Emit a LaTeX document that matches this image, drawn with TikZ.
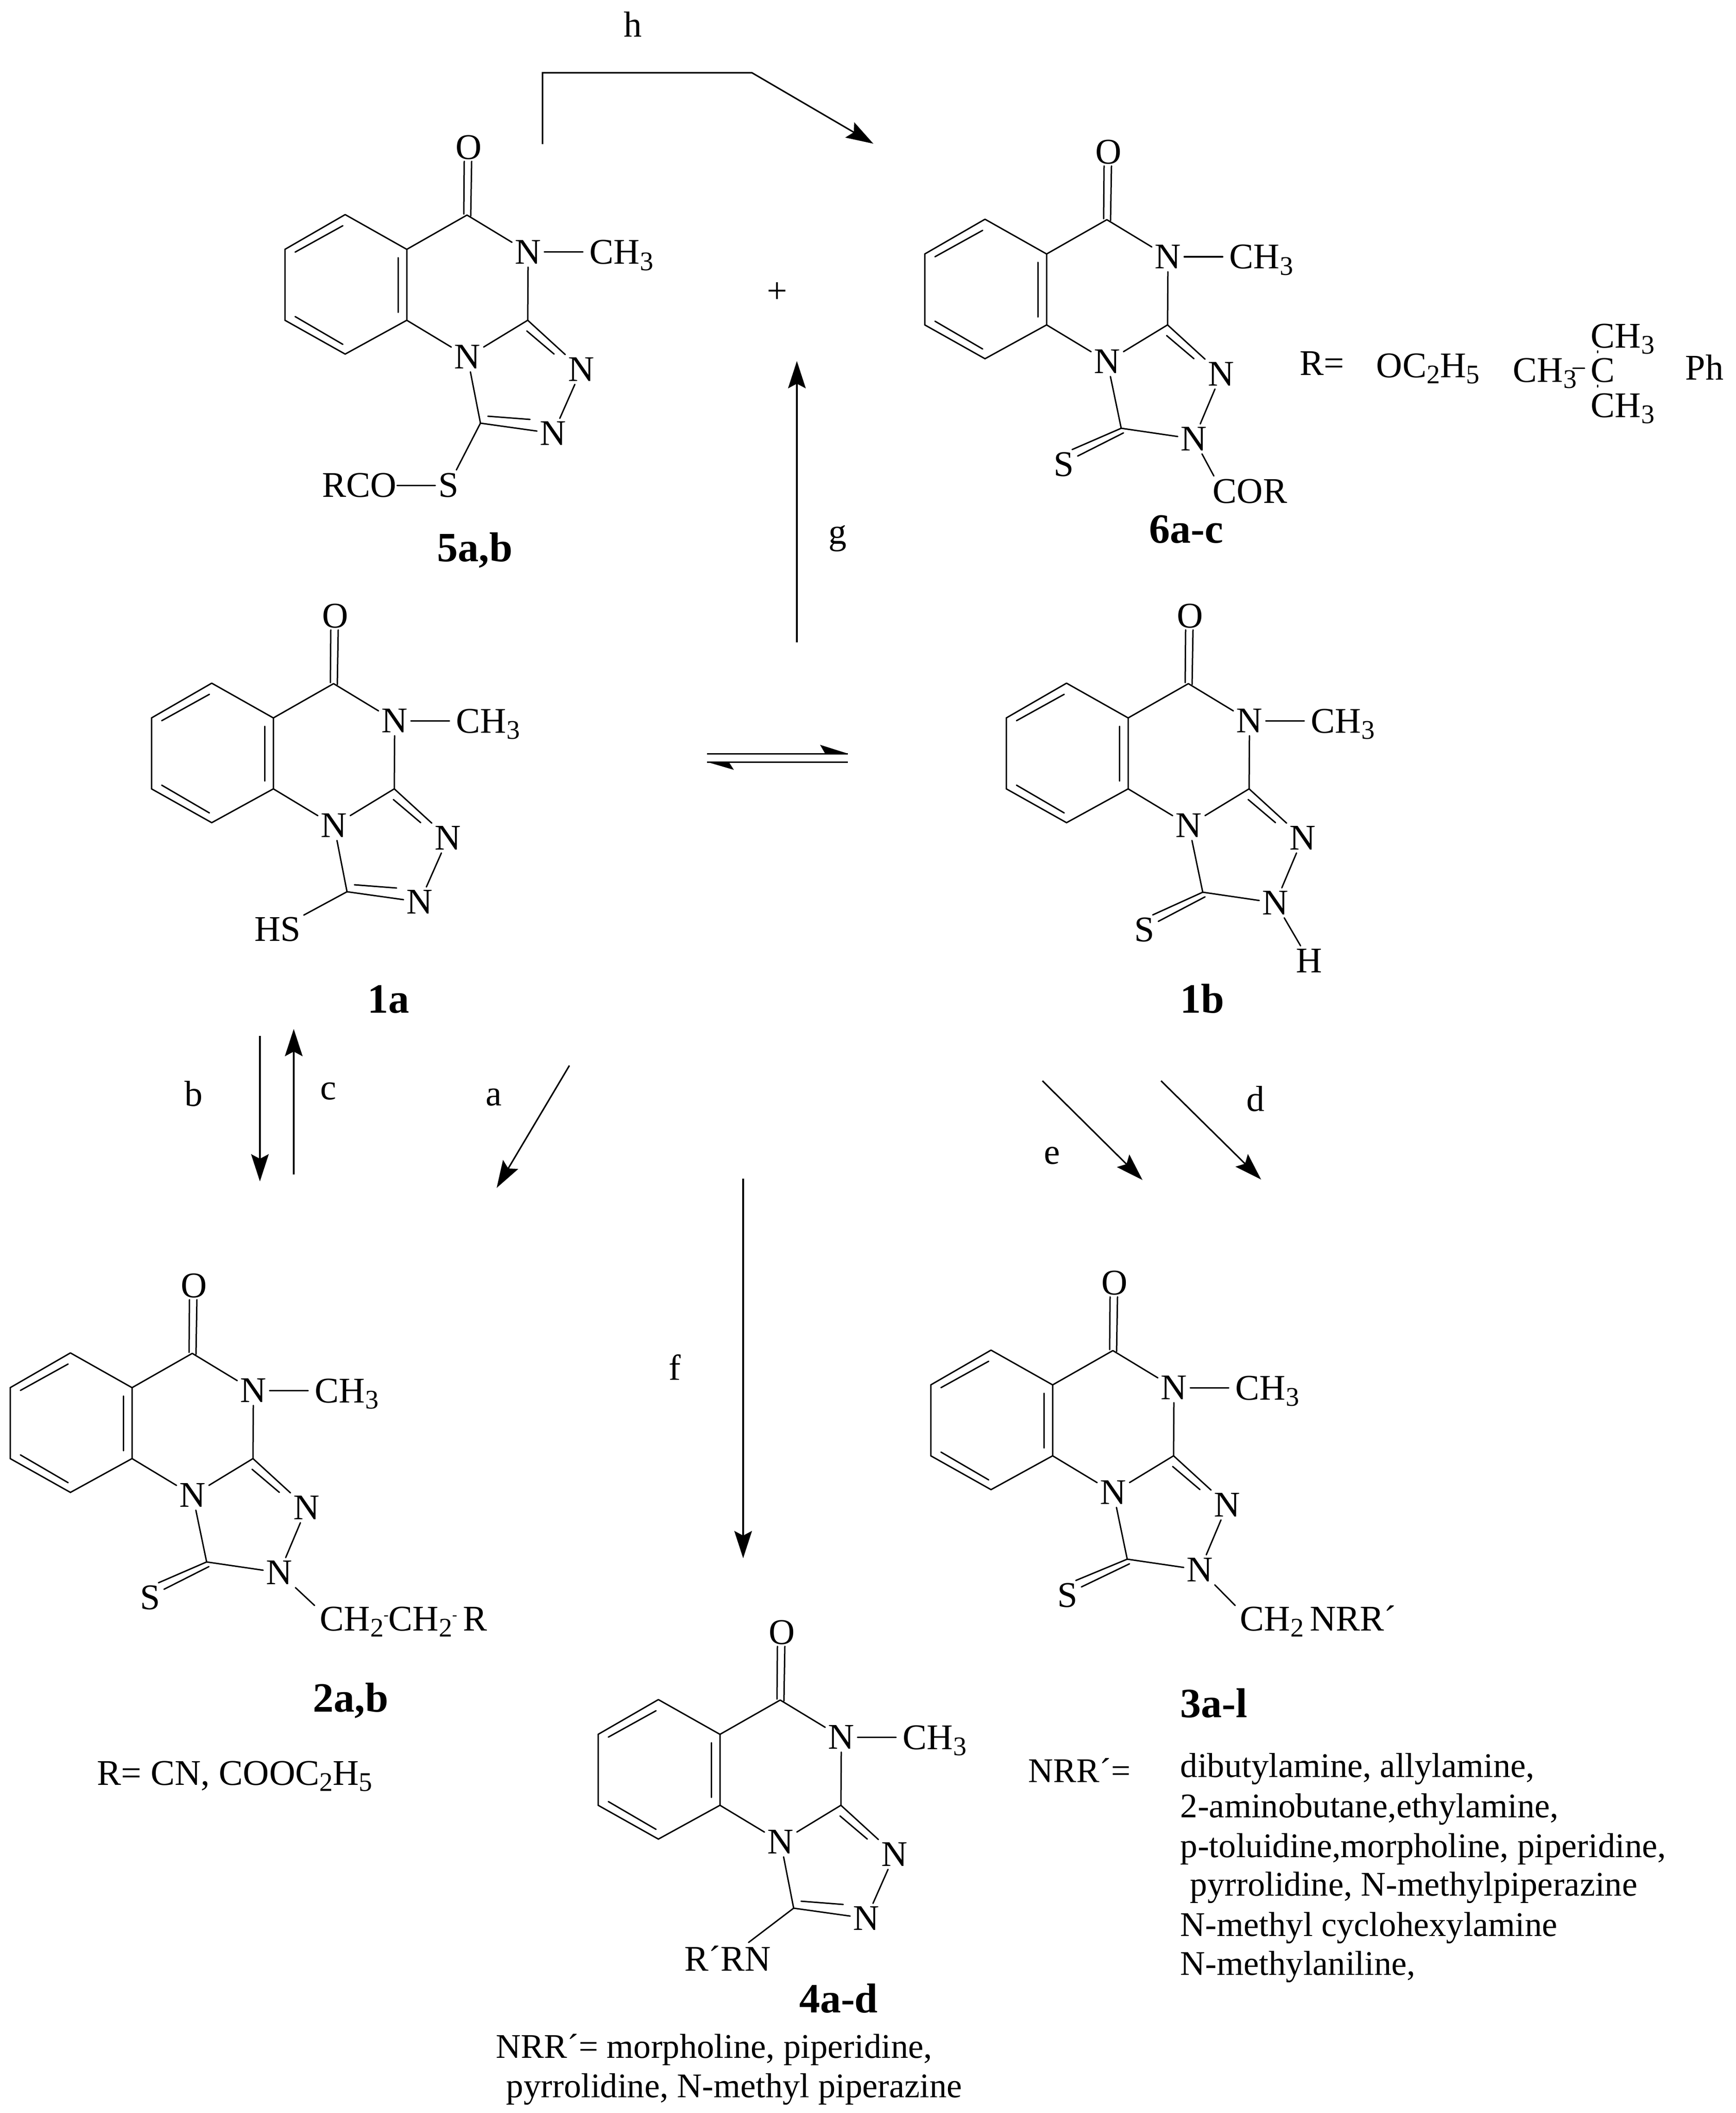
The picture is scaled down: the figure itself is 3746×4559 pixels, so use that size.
\documentclass[tikz,border=0pt]{standalone}
\usepackage{fontspec}
\setmainfont{Liberation Serif}
\usetikzlibrary{arrows.meta,calc}
\newcommand{\dn}[1]{\raisebox{-.17em}{\fontsize{14.5}{14.5}\selectfont #1}}
\newcommand{\smh}{\raisebox{.3em}{\fontsize{8}{8}\selectfont -}}
\tikzset{
  bond/.style={line width=.75pt,line cap=round},
  flowtip/.style={-{Stealth[length=14.7pt,width=9.5pt,inset=2.5pt]}},
  arrowline/.style={line width=.8pt,flowtip},
  atom/.style={inner sep=1.5pt,font=\fontsize{19.5}{23}\selectfont},
  txt/.style={inner sep=0pt,anchor=base west,font=\fontsize{19.5}{23}\selectfont},
  ltxt/.style={inner sep=0pt,anchor=base west,font=\fontsize{18.65}{23}\selectfont},
  ctxt/.style={inner sep=0pt,anchor=base,font=\fontsize{19.5}{23}\selectfont},
  lab/.style={inner sep=0pt,anchor=base,font=\fontsize{22.5}{26}\selectfont\bfseries},
}
% common fused skeleton; #1 prefix, #2,#3 position of the fusion atom, #4 ring-specific code
\newcommand{\corering}[4]{%
\begin{scope}[shift={(#2,#3)}]
 \coordinate (#1A) at (-133,-75); \coordinate (#1B) at (-263,0);
 \coordinate (#1C) at (-263,153); \coordinate (#1D) at (-133,226);
 \coordinate (#1E) at (0,153);    \coordinate (#1F) at (0,0);
 \coordinate (#1G) at (130,-74);  \coordinate (#1H) at (261,153);
 \coordinate (#1ab1) at (-138,-51); \coordinate (#1ab2) at (-241,6);
 \coordinate (#1cd1) at (-241,145); \coordinate (#1cd2) at (-138,205);
 \coordinate (#1ef1) at (-19,18);   \coordinate (#1ef2) at (-19,136);
 \coordinate (#1co1) at (123,-76);  \coordinate (#1co2) at (124,-190);
 \coordinate (#1co3) at (138,-72);  \coordinate (#1co4) at (140,-190);
 \coordinate (#1hn1) at (259,176);  \coordinate (#1hn2) at (318,226);
 \coordinate (#1me) at (380,6);
 \node[atom] (#1O) at (134,-220) {O};
 \node[atom] (#1Na) at (262,6) {N};
 \node[atom] (#1Nb) at (131,232) {N};
 \node[atom] (#1Nc) at (377,259) {N};
 \node[txt] (#1ch) at (394,32) {CH\dn{3}};
 \draw[bond] (#1A) -- (#1B) -- (#1C) -- (#1D) -- (#1E) -- (#1F) -- (#1A);
 \draw[bond] (#1ab1) -- (#1ab2);
 \draw[bond] (#1cd1) -- (#1cd2);
 \draw[bond] (#1ef1) -- (#1ef2);
 \draw[bond] (#1F) -- (#1G);
 \draw[bond] (#1G) -- (#1Na);
 \draw[bond] (#1Na) -- (#1H);
 \draw[bond] (#1H) -- (#1Nb);
 \draw[bond] (#1E) -- (#1Nb);
 \draw[bond] (#1H) -- (#1Nc);
 \draw[bond] (#1hn1) -- (#1hn2);
 \draw[bond] (#1co1) -- (#1co2);
 \draw[bond] (#1co3) -- (#1co4);
 \draw[bond] (#1Na) -- (#1me);
 #4
\end{scope}}
% aromatic triazole ring
\newcommand{\aromtri}[1]{%
 \coordinate (#1T) at (159,375);
 \coordinate (#1tn1) at (175,360); \coordinate (#1tn2) at (266,367);
 \node[atom] (#1Nd) at (316,397) {N};
 \draw[bond] (#1Nb) -- (#1T);
 \draw[bond] (#1T) -- (#1Nd);
 \draw[bond] (#1tn1) -- (#1tn2);
 \draw[bond] (#1Nc) -- (#1Nd);}
% thione triazole ring; #2,#3 position of S
\newcommand{\thiotri}[3]{%
 \coordinate (#1T) at (161,376);
 \coordinate (#1ts1) at (166,386);
 \coordinate (#1ts2) at (#2+30,#3-18);
 \coordinate (#1ts3) at (#2+18,#3-32);
 \node[atom] (#1Nd) at (318,399) {N};
 \draw[bond] (#1Nb) -- (#1T);
 \draw[bond] (#1T) -- (#1Nd);
 \draw[bond] (#1Nc) -- (#1Nd);
 \draw[bond] (#1T) -- (#1ts3);
 \draw[bond] (#1ts1) -- (#1ts2);
 \node[atom] (#1S) at (#2,#3) {S};}
\begin{document}
\begin{tikzpicture}[x=.25pt,y=-.25pt]
\useasboundingbox (0,0) rectangle (3746,4559);

% 5a,b
\corering{e}{878}{538}{%
 \aromtri{e}
 \node[atom] (eS) at (90,509) {S};
 \node[atom,inner sep=0pt] (eR) at (-102,509) {RCO};
 \draw[bond] (eT) -- (eS);
 \draw[bond] (eR) -- (eS);
}
\node[lab] (l5) at (1025,1211) {5a,b};

% 6a-c
\corering{f}{2259}{548}{%
 \thiotri{f}{37}{454}
 \coordinate (fsub) at (361,479);
 \draw[bond] (fNd) -- (fsub);
 \node[txt] (fcor) at (358,537) {COR};
}
\node[lab] (l6) at (2560,1171) {6a-c};
\node[txt] (rdef) at (2805,809) {R=};
\node[txt] (oet) at (2970,814) {OC\dn{2}H\dn{5}};
\node[txt] (meL) at (3265,824) {CH\dn{3}};
\node[txt] (cq) at (3433,824) {C};
\node[txt] (meT) at (3433,750) {CH\dn{3}};
\node[txt] (meB) at (3433,900) {CH\dn{3}};
\node[txt] (ph) at (3637,819) {Ph};
\coordinate (hy1) at (3395,794); \coordinate (hy2) at (3420,794);
\coordinate (dt1) at (3448,757); \coordinate (dt2) at (3448,761);
\coordinate (db1) at (3448,831); \coordinate (db2) at (3448,835);
\draw[bond] (hy1) -- (hy2);
\draw[bond] (dt1) -- (dt2);
\draw[bond] (db1) -- (db2);

% 1a
\corering{a}{590}{1549}{%
 \aromtri{a}
 \node[atom] (aHS) at (9,456) {HS};
 \draw[bond] (aT) -- (aHS);
}
\node[lab] (l1a) at (838,2185) {1a};

% 1b
\corering{b}{2435}{1549}{%
 \thiotri{b}{35}{457}
 \node[atom] (bH) at (391,524) {H};
 \draw[bond] (bNd) -- (bH);
}
\node[lab] (l1b) at (2595,2185) {1b};

% 2a,b
\corering{c}{285}{2994}{%
 \thiotri{c}{39}{453}
 \coordinate (csub) at (394,470);
 \draw[bond] (cNd) -- (csub);
 \node[txt] (ctail) at (405,524) {CH\dn{2}\smh CH\dn{2}\smh\,R};
}
\node[lab] (l2) at (757,3693) {2a,b};
\node[txt] (rcn) at (209,3851) {R= CN, COOC\dn{2}H\dn{5}};

% 3a-l
\corering{d}{2272}{2988}{%
 \thiotri{d}{32}{454}
 \coordinate (dsub) at (394,476);
 \draw[bond] (dNd) -- (dsub);
 \node[txt] (dtail) at (404,530) {CH\dn{2}\,NRR´};
}
\node[lab] (l3) at (2620,3705) {3a-l};
\node[ltxt] (nrrA) at (2219,3845) {NRR´=};
\node[ltxt] (lst1) at (2547,3834) {dibutylamine, allylamine,};
\node[ltxt] (lst2) at (2547,3921) {2-aminobutane,ethylamine,};
\node[ltxt] (lst3) at (2547,4007) {p-toluidine,morpholine, piperidine,};
\node[ltxt] (lst4) at (2568,4090) {pyrrolidine, N-methylpiperazine};
\node[ltxt] (lst5) at (2547,4177) {N-methyl cyclohexylamine};
\node[ltxt] (lst6) at (2547,4261) {N-methylaniline,};

% 4a-d
\corering{g}{1554}{3742}{%
 \aromtri{g}
 \node[atom] (gR) at (17,483) {R´RN};
 \draw[bond] (gT) -- (gR);
}
\node[lab] (l4) at (1810,4342) {4a-d};
\node[ltxt] (nrrB1) at (1070,4440) {NRR´= morpholine, piperidine,};
\node[ltxt] (nrrB2) at (1092,4525) {pyrrolidine, N-methyl piperazine};

% reaction arrows
\coordinate (h0) at (1171,311); \coordinate (h1) at (1171,157);
\coordinate (h2) at (1623,157); \coordinate (h3) at (1885,310);
\draw[line width=.8pt,flowtip] (h0) -- (h1) -- (h2) -- (h3);
\coordinate (g0) at (1720,1386); \coordinate (g1) at (1720,779);
\draw[arrowline] (g0) -- (g1);
\coordinate (b0) at (561,2235); \coordinate (b1) at (561,2549);
\draw[arrowline] (b0) -- (b1);
\coordinate (c0) at (634,2534); \coordinate (c1) at (634,2220);
\draw[arrowline] (c0) -- (c1);
\coordinate (a0) at (1229,2299); \coordinate (a1) at (1072,2563);
\draw[arrowline] (a0) -- (a1);
\coordinate (e0) at (2250,2332); \coordinate (e1) at (2466,2546);
\draw[arrowline] (e0) -- (e1);
\coordinate (d0) at (2506,2332); \coordinate (d1) at (2722,2545);
\draw[arrowline] (d0) -- (d1);
\coordinate (f0) at (1604,2543); \coordinate (f1) at (1604,3362);
\draw[arrowline] (f0) -- (f1);

% equilibrium arrows
\coordinate (q1) at (1526,1626); \coordinate (q2) at (1830,1626);
\coordinate (q3) at (1830,1644); \coordinate (q4) at (1526,1644);
\draw[line width=.75pt] (q1) -- (q2);
\draw[line width=.75pt] (q3) -- (q4);
\fill (q2) -- (1770,1607) -- (1781,1626) -- cycle;
\fill (q4) -- (1584,1661) -- (1573,1644) -- cycle;

% step letters
\node[ctxt] (th) at (1366,80) {h};
\node[atom] (tg) at (1808,1162) {g};
\node[atom] (tb) at (418,2360) {b};
\node[atom] (tc) at (709,2354) {c};
\node[atom] (ta) at (1066,2368) {a};
\node[ctxt] (te) at (2271,2511) {e};
\node[ctxt] (td) at (2710,2397) {d};
\node[atom] (tf) at (1456,2950) {f};
\node[atom] (plus) at (1677,631) {+};
\end{tikzpicture}
\end{document}
